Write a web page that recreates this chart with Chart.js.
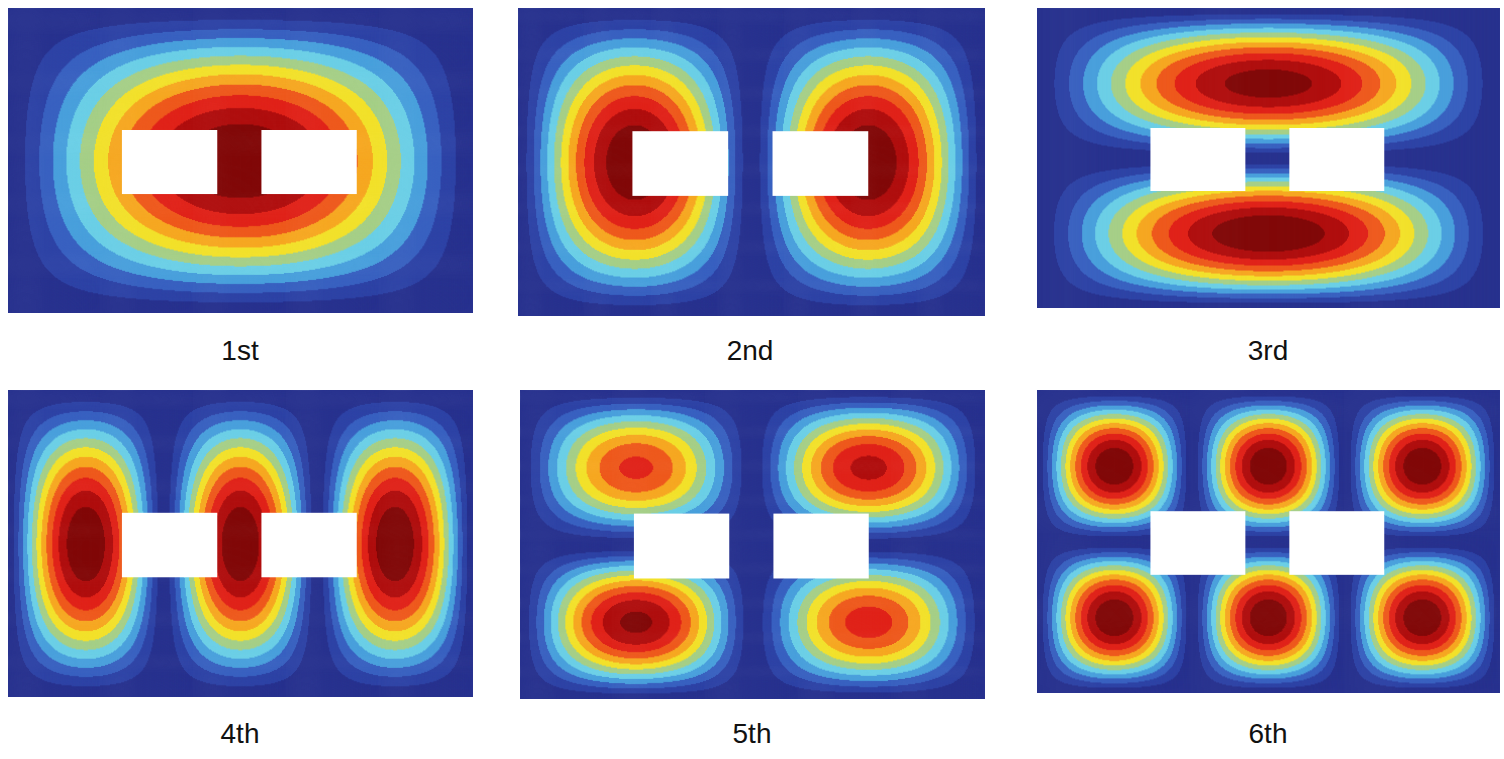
<!DOCTYPE html>
<html>
<head>
<meta charset="utf-8">
<script src="https://cdn.jsdelivr.net/npm/chart.js@4"></script>
<style>
  body { margin: 0; background: #fff; width: 1504px; height: 759px; position: relative; overflow: hidden; }
  .panel { position: absolute; }
  .label { position: absolute; width: 300px; text-align: center; font-family: "Liberation Sans", Arial, sans-serif; font-size: 28px; color: #111; }
</style>
</head>
<body>
<script>
// Mode labels
var MODE_LABELS = ['1st', '2nd', '3rd', '4th', '5th', '6th'];
// Lobes per mode: [x0, x1, y0, y1, peak] in plate units (x 0..2, y 0..1)
var MODE_1 = [[0, 2, 0, 1, 1.0]];
var MODE_2 = [[0, 1, 0, 1, 1.0], [1, 2, 0, 1, 1.0]];
var MODE_3 = [[0, 2, 0.5, 1, 0.97], [0, 2, 0, 0.5, 1.0]];
var MODE_4 = [[0, 0.67, 0, 1, 1.0], [0.67, 1.33, 0, 1, 1.0], [1.33, 2, 0, 1, 1.0]];
var MODE_5 = [[0, 1, 0.5, 1, 0.8], [1, 2, 0.5, 1, 0.88], [0, 1, 0, 0.5, 0.95], [1, 2, 0, 0.5, 0.82]];
var MODE_6 = [[0, 0.67, 0.5, 1, 1.0], [0.67, 1.33, 0.5, 1, 1.0], [1.33, 2, 0.5, 1, 1.0],
              [0, 0.67, 0, 0.5, 1.0], [0.67, 1.33, 0, 0.5, 1.0], [1.33, 2, 0, 0.5, 1.0]];
var MODES = [MODE_1, MODE_2, MODE_3, MODE_4, MODE_5, MODE_6];
// Two rectangular cut-outs [x0, x1, y0, y1]
var HOLES = [[0.49, 0.90, 0.39, 0.60], [1.09, 1.50, 0.39, 0.60]];
var BAND_COLORS = ['#29338f', '#2f44a6', '#3a62c0', '#4aa0dc', '#6ccfe6', '#a6cf88',
                   '#f2e12c', '#f6a823', '#ee5a1e', '#e0241b', '#b01010', '#820a0a'];
var BOXES = [[8, 8, 465, 305], [518, 8, 467, 308], [1037, 8, 463, 300],
             [8, 390, 465, 307], [520, 390, 465, 309], [1037, 390, 463, 303]];
var LABEL_POS = [[240, 335], [750, 335], [1268, 335], [240, 718], [752, 718], [1268, 718]];

function fieldValue(lobes, x, y) {
  var v = 0;
  lobes.forEach(function (l) {
    if (x >= l[0] && x <= l[1] && y >= l[2] && y <= l[3]) {
      var s = Math.sin(Math.PI * (x - l[0]) / (l[1] - l[0])) * Math.sin(Math.PI * (y - l[2]) / (l[3] - l[2]));
      v = Math.max(v, l[4] * s);
    }
  });
  return v;
}

var fieldPlugin = {
  id: 'field',
  beforeDatasetsDraw: function (chart) {
    var lobes = chart.options.plugins.field.lobes;
    var xs = chart.scales.x, ys = chart.scales.y, ctx = chart.ctx;
    var nx = 460, ny = 300;
    ctx.save();
    for (var i = 0; i < nx; i++) {
      for (var j = 0; j < ny; j++) {
        var x0 = 2 * i / nx, x1 = 2 * (i + 1) / nx;
        var y0 = j / ny, y1 = (j + 1) / ny;
        var v = fieldValue(lobes, (x0 + x1) / 2, (y0 + y1) / 2);
        var b = Math.min(BAND_COLORS.length - 1, Math.floor(Math.pow(v, 1.15) * BAND_COLORS.length * 0.999));
        ctx.fillStyle = BAND_COLORS[b];
        var px0 = xs.getPixelForValue(x0), px1 = xs.getPixelForValue(x1);
        var py0 = ys.getPixelForValue(y1), py1 = ys.getPixelForValue(y0);
        ctx.fillRect(px0, py0, px1 - px0 + 0.6, py1 - py0 + 0.6);
      }
    }
    ctx.fillStyle = '#ffffff';
    HOLES.forEach(function (h) {
      var a = xs.getPixelForValue(h[0]), c = xs.getPixelForValue(h[1]);
      var t = ys.getPixelForValue(h[3]), bt = ys.getPixelForValue(h[2]);
      ctx.fillRect(a, t, c - a, bt - t);
    });
    ctx.restore();
  }
};

MODES.forEach(function (lobes, k) {
  var box = BOXES[k];
  var div = document.createElement('div');
  div.className = 'panel';
  div.style.left = box[0] + 'px'; div.style.top = box[1] + 'px';
  div.style.width = box[2] + 'px'; div.style.height = box[3] + 'px';
  var canvas = document.createElement('canvas');
  div.appendChild(canvas);
  document.body.appendChild(div);

  var lab = document.createElement('div');
  lab.className = 'label';
  lab.style.left = (LABEL_POS[k][0] - 150) + 'px';
  lab.style.top = LABEL_POS[k][1] + 'px';
  lab.textContent = MODE_LABELS[k];
  document.body.appendChild(lab);

  new Chart(canvas.getContext('2d'), {
    type: 'scatter',
    data: { datasets: [{ data: [] }] },
    options: {
      responsive: true,
      maintainAspectRatio: false,
      animation: false,
      layout: { padding: 0 },
      scales: {
        x: { type: 'linear', min: 0, max: 2, display: false },
        y: { type: 'linear', min: 0, max: 1, display: false }
      },
      plugins: {
        legend: { display: false },
        tooltip: { enabled: false },
        field: { lobes: lobes }
      }
    },
    plugins: [fieldPlugin]
  });
});
</script>
</body>
</html>
